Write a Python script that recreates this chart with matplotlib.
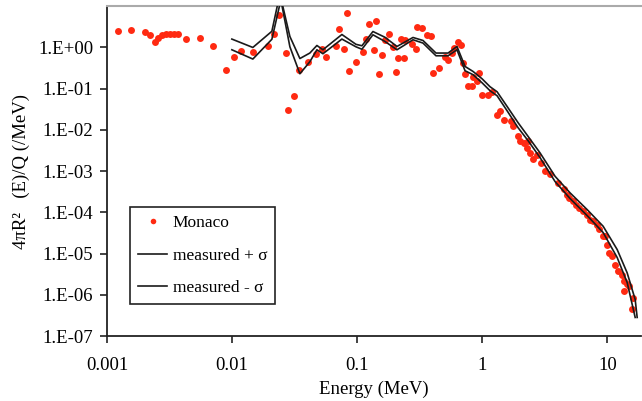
import matplotlib
matplotlib.use("Agg")
from matplotlib import pyplot as plt
from matplotlib.ticker import FixedLocator, FuncFormatter, NullLocator
import numpy as np

plt.rcParams["font.family"] = ["Liberation Serif", "DejaVu Serif"]

# Monaco calculation (points)
monaco_e = [
    0.001225, 0.001547, 0.002003, 0.002196, 0.002439, 0.002568, 0.002764, 0.002987,
    0.003204, 0.003449, 0.003678, 0.004263, 0.005546, 0.007034, 0.008987, 0.01041,
    0.01174, 0.01472, 0.0193, 0.02144, 0.02351, 0.02679, 0.031, 0.02817,
    0.03429, 0.0407, 0.04674, 0.05189, 0.05649, 0.0673, 0.07178, 0.07856,
    0.08226, 0.08551, 0.0976, 0.1111, 0.1185, 0.1241, 0.1411, 0.136,
    0.1576, 0.1483, 0.1666, 0.1803, 0.1941, 0.2029, 0.2105, 0.2364,
    0.2237, 0.2407, 0.2739, 0.2933, 0.2988, 0.3293, 0.3631, 0.3887,
    0.4055, 0.4529, 0.5003, 0.5316, 0.5689, 0.597, 0.6357, 0.6754,
    0.7047, 0.7311, 0.8472, 0.7727, 0.8228, 0.941, 0.902, 0.9945,
    1.117, 1.202, 1.304, 1.385, 1.491, 1.687, 1.77, 1.941,
    2.003, 2.168, 2.333, 2.265, 2.407, 2.53, 2.724, 2.933,
    3.174, 3.48, 4.055, 4.505, 4.733, 4.966, 5.286, 5.617,
    5.97, 6.357, 6.844, 7.272, 7.643, 8.228, 8.63, 9.189,
    9.585, 10.0, 10.38, 10.84, 11.52, 12.25, 13.04, 13.6,
    14.3, 15.0, 13.6, 16.14, 15.67,
]
monaco_f = [
    2.51, 2.65, 2.37, 1.93, 1.36, 1.70, 1.95, 2.04,
    2.09, 2.09, 2.09, 1.58, 1.70, 1.07, 0.285, 0.579,
    0.832, 0.765, 1.075, 2.06, 6.02, 0.724, 0.0644, 0.0298,
    0.285, 0.446, 0.669, 0.930, 0.579, 1.057, 2.85, 0.920,
    6.73, 0.265, 0.446, 0.787, 1.56, 3.71, 4.31, 0.837,
    0.658, 0.228, 1.46, 2.09, 0.989, 0.245, 0.548, 0.548,
    1.58, 1.52, 1.215, 0.920, 3.08, 2.92, 1.93, 1.826,
    0.237, 0.307, 0.566, 0.479, 0.724, 0.956, 1.31, 1.13,
    0.414, 0.228, 0.190, 0.1124, 0.1124, 0.237, 0.1486, 0.0681,
    0.0708, 0.0804, 0.0232, 0.0279, 0.01757, 0.01597, 0.01209, 0.00692,
    0.00524, 0.00479, 0.00524, 0.00362, 0.00274, 0.00196, 0.00249, 0.00157,
    9.83e-4, 8.65e-4, 5.15e-4, 3.69e-4, 2.68e-4, 2.23e-4, 1.85e-4, 1.54e-4,
    1.28e-4, 1.06e-4, 8.80e-5, 6.65e-5, 6.05e-5, 5.04e-5, 3.96e-5, 2.73e-5,
    2.62e-5, 1.65e-5, 1.04e-5, 8.60e-6, 5.42e-6, 3.73e-6, 3.10e-6, 2.13e-6,
    1.78e-6, 1.61e-6, 1.22e-6, 8.46e-7, 4.41e-7,
]

# measured spectrum +/- sigma
plus_e = [
    0.00995, 0.01464, 0.02078, 0.02408, 0.02895, 0.0348, 0.0418, 0.0476,
    0.0532, 0.0754, 0.0976, 0.109, 0.1335, 0.1666, 0.2078, 0.279,
    0.3354, 0.426, 0.532, 0.627, 0.727, 0.843, 0.994, 1.152,
    1.311, 1.576, 1.93, 2.32, 2.894, 3.815, 5.03, 6.88,
    9.24, 11.96, 14.37, 16.66, 17.28,
]
plus_f = [
    1.58, 0.989, 2.44, 19.7, 1.826, 0.533, 0.724, 1.105,
    0.870, 2.04, 1.18, 1.087, 2.41, 1.746, 1.046, 1.727,
    1.461, 0.724, 0.724, 1.046, 0.343, 0.259, 0.1727, 0.1105,
    0.0836, 0.0369, 0.01486, 0.00692, 0.002744, 7.44e-4, 2.95e-4, 1.162e-4,
    4.58e-5, 1.25e-5, 3.41e-6, 7.69e-7, 2.82e-7,
]
minus_e = [
    0.00995, 0.01464, 0.02078, 0.02452, 0.02895, 0.0348, 0.0418, 0.0476,
    0.0532, 0.0754, 0.0976, 0.109, 0.1335, 0.1666, 0.2078, 0.279,
    0.3354, 0.426, 0.532, 0.627, 0.727, 0.843, 0.994, 1.152,
    1.311, 1.576, 1.93, 2.32, 2.894, 3.815, 5.03, 6.88,
    9.24, 11.96, 14.37, 16.66,
]
minus_f = [
    0.870, 0.518, 1.562, 14.1, 1.028, 0.228, 0.4456, 0.870,
    0.696, 1.58, 1.028, 0.895, 2.007, 1.381, 0.870, 1.519,
    1.264, 0.622, 0.622, 0.870, 0.270, 0.216, 0.138, 0.0885,
    0.0669, 0.0290, 0.01124, 0.00545, 0.00211, 5.54e-4, 2.15e-4, 8.32e-5,
    3.23e-5, 8.0e-6, 1.99e-6, 2.82e-7,
]

y_ticks = [1e-7, 1e-6, 1e-5, 1e-4, 1e-3, 1e-2, 1e-1, 1e0]
x_ticks = [0.001, 0.01, 0.1, 1, 10]
x_labels = ["0.001", "0.01", "0.1", "1", "10"]

fig = plt.figure(figsize=(6.42, 4.01), dpi=100)
ax = fig.add_axes([0.1667, 0.162, 0.832, 0.823])

ax.plot(monaco_e, monaco_f, "o", color="#ff2a12", markersize=5, markeredgewidth=0,
        label="Monaco", zorder=2)
ax.plot(plus_e, plus_f, color="#1a1a1a", lw=1.2, label="measured + σ", zorder=3)
ax.plot(minus_e, minus_f, color="#1a1a1a", lw=1.2, label="measured - σ", zorder=3)

ax.set_xscale("log")
ax.set_yscale("log")
ax.set_xlim(0.001, 18.6)
ax.set_ylim(1e-7, 10)

ax.xaxis.set_major_locator(FixedLocator(x_ticks))
ax.xaxis.set_major_formatter(FuncFormatter(lambda v, p: x_labels[x_ticks.index(v)] if v in x_ticks else ""))
ax.xaxis.set_minor_locator(NullLocator())
ax.yaxis.set_major_locator(FixedLocator(y_ticks))
ax.yaxis.set_major_formatter(FuncFormatter(lambda v, p: "1.E%+03d" % int(round(np.log10(v)))))
ax.yaxis.set_minor_locator(NullLocator())
ax.tick_params(direction="out", length=5, width=1.2, labelsize=13.5, color="#222222")
ax.tick_params(axis="y", pad=5)
ax.tick_params(axis="x", pad=10)

for s in ["left", "bottom"]:
    ax.spines[s].set_linewidth(1.3)
    ax.spines[s].set_color("#222222")
ax.spines["top"].set_color("#aaaaaa")
ax.spines["top"].set_linewidth(1.5)
ax.spines["right"].set_visible(False)

ax.set_xlabel("Energy (MeV)", fontsize=13.5, labelpad=5)
ax.set_ylabel("4πR²   (E)/Q (/MeV)", fontsize=13.5, labelpad=6)

leg = ax.legend(loc="upper left", bbox_to_anchor=(0.043, 0.391), borderaxespad=0,
                fontsize=12.5, frameon=True, fancybox=False, framealpha=1,
                edgecolor="#222222", handlelength=1.7, handletextpad=0.3,
                labelspacing=0.95, markerscale=0.8, borderpad=0.45)
leg.get_frame().set_linewidth(1.2)

fig.savefig("out.png", dpi=100)
